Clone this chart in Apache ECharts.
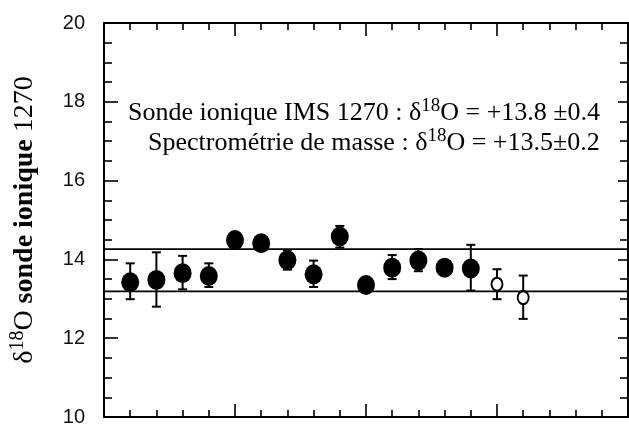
<!DOCTYPE html>
<html>
<head>
<meta charset="utf-8">
<script src="https://cdn.jsdelivr.net/npm/echarts@6/dist/echarts.min.js"></script>
<style>
html,body{margin:0;padding:0;background:#fff;}
#c{width:629px;height:427px;}
</style>
</head>
<body>
<div id="c"></div>
<script>
// ---- data ----
const samples   = [1,2,3,4,5,6,7,8,9,10,11,12,13,14,15,16];
const values    = [13.42,13.48,13.65,13.58,14.49,14.41,13.98,13.62,14.58,13.35,13.79,13.97,13.79,13.77,13.37,13.03];
const errLow    = [12.99,12.80,13.24,13.30,14.36,14.30,13.74,13.30,14.30,13.22,13.50,13.70,13.62,13.21,12.99,12.49];
const errHigh   = [13.90,14.18,14.09,13.90,14.62,14.52,14.24,13.97,14.85,13.48,14.11,14.26,13.95,14.37,13.75,13.59];
const markKind  = ['f','f','f','f','f','f','f','f','f','f','f','f','f','f','o','o'];
const refLines  = [14.26, 13.19];
const xRange    = [0, 20];
const yTicks    = [10, 12, 14, 16, 18, 20];

const filled = [], open = [], errData = [];
samples.forEach((s, i) => {
  (markKind[i] === 'f' ? filled : open).push([s, values[i]]);
  errData.push([s, errLow[i], errHigh[i]]);
});

const chart = echarts.init(document.getElementById('c'), null, {renderer: 'canvas'});

const tickStyleX = {
  show: true, inside: true, interval: 0, length: 13,
  lineStyle: {color: '#000', width: 1.6}
};
const minorX = {show: true, splitNumber: 5, length: 7, lineStyle: {color: '#000', width: 1.6}};
const minorY = {show: true, splitNumber: 4, length: 8, lineStyle: {color: '#000', width: 1.6}};

const supStyle = {fontFamily: 'Liberation Serif', fontSize: 19, color: '#000', padding: [0, 0, 13, 0]};
const txtStyle = {fontFamily: 'Liberation Serif', fontSize: 26, color: '#000'};

chart.setOption({
  animation: false,
  backgroundColor: '#fff',
  grid: {left: 103, right: 1, top: 23, bottom: 10, containLabel: false},
  xAxis: [
    {type: 'value', min: xRange[0], max: xRange[1], interval: 5, position: 'bottom',
     axisLine: {show: true, onZero: false, lineStyle: {color: '#000', width: 2}},
     axisTick: tickStyleX, minorTick: minorX, axisLabel: {show: false},
     splitLine: {show: false}, minorSplitLine: {show: false}},
    {type: 'value', min: xRange[0], max: xRange[1], interval: 5, position: 'top',
     axisLine: {show: true, onZero: false, lineStyle: {color: '#000', width: 2}},
     axisTick: tickStyleX, minorTick: minorX, axisLabel: {show: false},
     splitLine: {show: false}}
  ],
  yAxis: [
    {type: 'value', min: yTicks[0], max: yTicks[yTicks.length - 1], interval: 2, position: 'left',
     axisLine: {show: true, onZero: false, lineStyle: {color: '#000', width: 2}},
     axisTick: {show: true, inside: true, length: 14, lineStyle: {color: '#000', width: 1.6}},
     minorTick: minorY,
     axisLabel: {show: true, margin: 19, fontFamily: 'Liberation Sans', fontSize: 20, color: '#111'},
     splitLine: {show: false},
     name: '{d|δ}{s|18}{d|O }{b|sonde ionique}{d| 1270}',
     nameLocation: 'middle', nameRotate: 90, nameGap: 62,
     nameTextStyle: {
       rich: {
         d: {fontFamily: 'Liberation Serif', fontSize: 28, color: '#000'},
         b: {fontFamily: 'Liberation Serif', fontSize: 28, fontWeight: 'bold', color: '#000'},
         s: {fontFamily: 'Liberation Serif', fontSize: 20, color: '#000', padding: [0, 0, 14, 0]}
       }
     }},
    {type: 'value', min: yTicks[0], max: yTicks[yTicks.length - 1], interval: 2, position: 'right',
     axisLine: {show: true, onZero: false, lineStyle: {color: '#000', width: 2}},
     axisTick: {show: true, inside: true, length: 10, lineStyle: {color: '#000', width: 1.6}},
     minorTick: minorY, axisLabel: {show: false}, splitLine: {show: false}}
  ],
  graphic: [
    {type: 'text', left: 128, top: 97, z: 10,
     style: {
       text: '{t|Sonde ionique IMS 1270 : δ}{s|18}{t|O = +13.8 ±0.4}',
       rich: {t: txtStyle, s: supStyle}
     }},
    {type: 'text', left: 148, top: 127, z: 10,
     style: {
       text: '{t|Spectrométrie de masse : δ}{s|18}{t|O = +13.5±0.2}',
       rich: {t: txtStyle, s: supStyle}
     }}
  ],
  series: [
    ...refLines.map(v => ({
      type: 'line', xAxisIndex: 0, yAxisIndex: 0, symbol: 'none', silent: true,
      data: [[xRange[0], v], [xRange[1], v]],
      lineStyle: {color: '#000', width: 1.8}
    })),
    {
      type: 'custom', xAxisIndex: 0, yAxisIndex: 0, data: errData,
      renderItem: function (params, api) {
        const x = api.value(0);
        const lo = api.coord([x, api.value(1)]);
        const hi = api.coord([x, api.value(2)]);
        const cap = 4.5;
        const st = {stroke: '#000', lineWidth: 2};
        return {type: 'group', children: [
          {type: 'line', shape: {x1: lo[0], y1: lo[1], x2: hi[0], y2: hi[1]}, style: st},
          {type: 'line', shape: {x1: lo[0] - cap, y1: lo[1], x2: lo[0] + cap, y2: lo[1]}, style: st},
          {type: 'line', shape: {x1: hi[0] - cap, y1: hi[1], x2: hi[0] + cap, y2: hi[1]}, style: st}
        ]};
      },
      z: 3
    },
    {
      type: 'scatter', xAxisIndex: 0, yAxisIndex: 0, data: filled,
      symbol: 'circle', symbolSize: [18, 20],
      itemStyle: {color: '#000', opacity: 1}, z: 4
    },
    {
      type: 'scatter', xAxisIndex: 0, yAxisIndex: 0, data: open,
      symbol: 'circle', symbolSize: [11, 13],
      itemStyle: {color: '#fff', borderColor: '#000', borderWidth: 2, opacity: 1}, z: 4
    }
  ]
});
</script>
</body>
</html>
